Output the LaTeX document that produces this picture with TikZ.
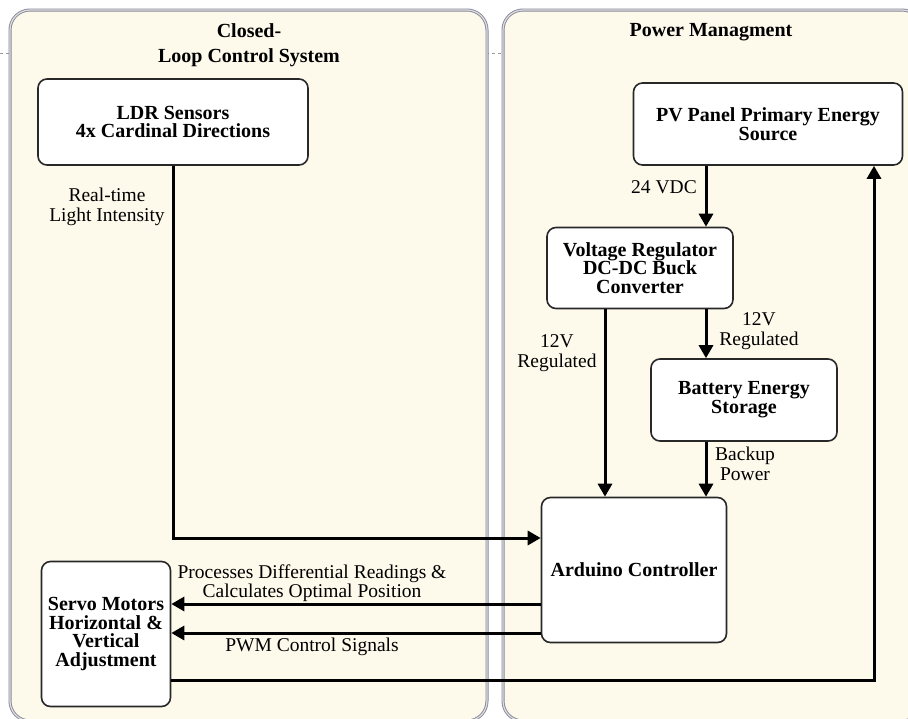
\documentclass[tikz,border=0pt]{standalone}
\usepackage{fontspec}
\setmainfont{Liberation Serif}
\usepackage{tikz}
\usetikzlibrary{arrows.meta}
\usepackage{xcolor}
\definecolor{lanefill}{RGB}{253,249,235}
\definecolor{laneline}{RGB}{135,135,155}
\definecolor{boxline}{RGB}{40,40,40}

\begin{document}
\begin{tikzpicture}[x=1pt, y=-1pt,
    lane/.style={draw=laneline, double=gray!25, double distance=1.2pt, line width=0.9pt,
      fill=lanefill, rounded corners=20pt},
    lanetitle/.style={font=\fontsize{20}{25}\selectfont\bfseries, align=center},
    block/.style={draw=boxline, line width=1.6pt, fill=white, rounded corners=9pt,
      align=center, font=\fontsize{20}{18.7}\selectfont\bfseries},
    lbl/.style={align=center, font=\fontsize{19.5}{19.5}\selectfont, inner sep=0pt},
    flow/.style={line width=3pt, -{Triangle[length=13pt, width=14pt]}}]
  \useasboundingbox (0,0) rectangle (908,718);
  \clip (0,0) rectangle (908,718);
  \fill[white] (0,0) rectangle (908,718);

  % Lanes
  \draw[gray!80, dashed, line width=1pt] (0,53) -- (503,53);
  \draw[lane] (10,10) rectangle (487,721);
  \draw[lane] (503,10) rectangle (922,721);
  \node[lanetitle] (cltitle) at (249,45) {Closed-\\Loop Control System};
  \node[lanetitle] (pmtitle) at (711,32) {Power Managment};

  % Nodes
  \node[block, minimum width=270, minimum height=86] (ldr) at (173,122) {LDR Sensors\\4x Cardinal Directions};
  \node[block, minimum width=269, minimum height=82] (pv) at (768,124) {PV Panel Primary Energy\\Source};
  \node[block, minimum width=186, minimum height=81] (vr) at (640,268) {Voltage Regulator\\DC-DC Buck\\Converter};
  \node[block, minimum width=186, minimum height=82] (bat) at (744,400) {Battery Energy\\Storage};
  \node[block, minimum width=185, minimum height=145] (ard) at (634,570) {Arduino Controller};
  \node[block, minimum width=129, minimum height=145] (servo) at (106,634) {Servo Motors\\Horizontal \&\\Vertical\\Adjustment};

  % Bus coordinates
  \coordinate (busA) at (706,0);
  \coordinate (busB) at (605,0);
  \coordinate (ldrin) at (0,538);
  \coordinate (calc) at (0,604);
  \coordinate (pwm) at (0,633);
  \coordinate (fb) at (874,680);

  % Edges
  \draw[flow] (pv.south -| busA) -- (vr.north -| busA);
  \draw[flow] (vr.south -| busA) -- (bat.north -| busA);
  \draw[flow] (vr.south -| busB) -- (ard.north -| busB);
  \draw[flow] (bat.south -| busA) -- (ard.north -| busA);
  \draw[flow] (ldr.south) |- (ard.west |- ldrin);
  \draw[flow] (ard.west |- calc) -- (servo.east |- calc);
  \draw[flow] (ard.west |- pwm) -- (servo.east |- pwm);
  \draw[flow] (servo.east |- fb) -- (fb) -- (pv.south -| fb);

  % Labels
  \node[lbl] (vdc) at (664,187) {24 VDC};
  \node[lbl] (light) at (107,207) {Real-time\\Light Intensity};
  \node[lbl] (regbat) at (759,331) {12V\\Regulated};
  \node[lbl] (regard) at (557,353) {12V\\Regulated};
  \node[lbl] (backup) at (745,464) {Backup\\Power};
  \node[lbl] (proc) at (312,583) {Processes Differential Readings \&\\Calculates Optimal Position};
  \node[lbl] (pwmlbl) at (312,647) {PWM Control Signals};
\end{tikzpicture}
\end{document}
